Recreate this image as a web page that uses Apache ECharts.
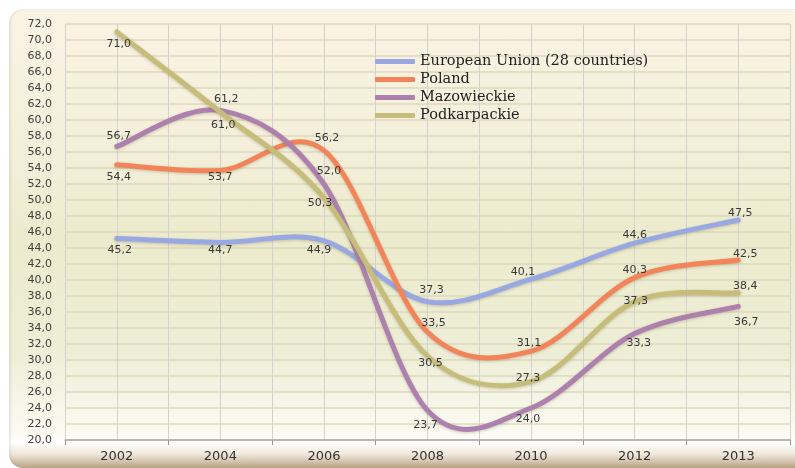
<!DOCTYPE html>
<html>
<head>
<meta charset="utf-8">
<script src="https://cdn.jsdelivr.net/npm/echarts@6/dist/echarts.min.js"></script>
<style>
html,body{margin:0;padding:0;background:#ffffff;}
#wrap{position:relative;width:795px;height:468px;overflow:hidden;}
#panel{position:absolute;left:9px;top:9px;width:790px;height:459px;border-radius:14px 0 0 14px;
background:linear-gradient(to bottom,#fbf3e4 0%,#f4efdb 30%,#ecebcd 50%,#eeeed7 75%,#fafaf2 92%,#ffffff 94.5%,#efe7da 97%,#b9a385 100%);
box-shadow:inset 2px 0 2px rgba(150,130,100,0.15);}
#chart{position:absolute;left:0;top:0;width:795px;height:468px;}
</style>
</head>
<body>
<div id="wrap"><div id="panel"></div><div id="chart"></div></div>
<script>
const categories = ['2002', '2004', '2006', '2008', '2010', '2012', '2013'];
const seriesNames = ['European Union (28 countries)', 'Poland', 'Mazowieckie', 'Podkarpackie'];
const euValues = [45.2, 44.7, 44.9, 37.3, 40.1, 44.6, 47.5];
const polandValues = [54.4, 53.7, 56.2, 33.5, 31.1, 40.3, 42.5];
const mazowieckieValues = [56.7, 61.2, 52.0, 23.7, 24.0, 33.3, 36.7];
const podkarpackieValues = [71.0, 61.0, 50.3, 30.5, 27.3, 37.3, 38.4];

// label placement (style only): offset of the label centre from its point, in px
const labelOffsets = [
  [[3,12],[0,8],[-5,9],[4,-11],[-8,-7],[0,-8],[2,-7]],
  [[2,12],[0,7],[3,-12],[6,-9],[-2,-8],[0,-7],[7,-6]],
  [[2,-10],[6,-11],[5,-13],[-2,15],[-3,11],[4,10],[8,16]],
  [[2,12],[3,13],[-4,6],[3,7],[-3,-3],[1,0],[7,-7]]
];
const colors = ['#99a8e2', '#f3845a', '#ad80ad', '#c7bd7a'];
const allValues = [euValues, polandValues, mazowieckieValues, podkarpackieValues];

const fmt = v => v.toFixed(1).replace('.', ',');

// Smoothed path through the points (Catmull-Rom style, as spreadsheet "smoothed line")
function smoothPath(pts) {
  const n = pts.length;
  let d = 'M' + pts[0][0] + ' ' + pts[0][1];
  for (let i = 0; i < n - 1; i++) {
    const p0 = pts[Math.max(i - 1, 0)], p1 = pts[i], p2 = pts[i + 1], p3 = pts[Math.min(i + 2, n - 1)];
    const c1x = p1[0] + (p2[0] - p0[0]) / 6, c1y = p1[1] + (p2[1] - p0[1]) / 6;
    const c2x = p2[0] - (p3[0] - p1[0]) / 6, c2y = p2[1] - (p3[1] - p1[1]) / 6;
    d += ' C' + c1x + ' ' + c1y + ' ' + c2x + ' ' + c2y + ' ' + p2[0] + ' ' + p2[1];
  }
  return d;
}

const series = allValues.map((vals, si) => ({
  name: seriesNames[si],
  type: 'custom',
  xAxisIndex: 0,
  yAxisIndex: 0,
  z: 2 + si,
  itemStyle: { color: colors[si] },
  data: vals,
  clip: false,
  renderItem: function (params, api) {
    const i = params.dataIndex;
    const children = [];
    if (i === 0) {
      const pts = vals.map((v, k) => api.coord([k, v]));
      children.push({
        type: 'path',
        shape: { pathData: smoothPath(pts) },
        style: {
          fill: 'none',
          stroke: colors[si],
          lineWidth: 5,
          lineCap: 'round',
          lineJoin: 'round',
          shadowColor: 'rgba(90,80,40,0.28)',
          shadowBlur: 3,
          shadowOffsetY: 1
        },
        z2: 1
      });
    }
    const c = api.coord([i, vals[i]]);
    const off = labelOffsets[si][i];
    children.push({
      type: 'text',
      x: c[0] + off[0],
      y: c[1] + off[1],
      style: {
        text: fmt(vals[i]),
        align: 'center',
        verticalAlign: 'middle',
        fontFamily: 'DejaVu Sans',
        fontSize: 11,
        fill: '#383838'
      },
      z2: 100
    });
    return { type: 'group', children: children };
  }
}));

const chart = echarts.init(document.getElementById('chart'), null, { renderer: 'canvas' });
chart.setOption({
  animation: false,
  backgroundColor: 'transparent',
  grid: { left: 65, right: 5, top: 24, bottom: 28, containLabel: false },
  legend: {
    orient: 'vertical',
    left: 375,
    top: 54,
    padding: 0,
    itemWidth: 40,
    itemHeight: 5,
    itemGap: 3,
    icon: 'roundRect',
    data: seriesNames,
    textStyle: { fontFamily: 'DejaVu Serif', fontSize: 14.5, color: '#222222', lineHeight: 15 }
  },
  xAxis: [
    {
      type: 'category',
      data: categories,
      boundaryGap: true,
      axisLine: { show: true, lineStyle: { color: '#a9a9a9', width: 1.5 } },
      axisTick: { show: true, length: 5, lineStyle: { color: '#9a9a9a' } },
      axisLabel: { fontFamily: 'DejaVu Sans', fontSize: 13, color: '#333333', margin: 10 },
      splitLine: { show: false }
    },
    {
      type: 'value',
      min: 0,
      max: 14,
      interval: 1,
      position: 'bottom',
      axisLine: { show: false },
      axisTick: { show: false },
      axisLabel: { show: false },
      splitLine: { show: true, lineStyle: { color: '#d2d2cf', width: 1 } }
    }
  ],
  yAxis: {
    type: 'value',
    min: 20,
    max: 72,
    interval: 2,
    axisLine: { show: false },
    axisTick: { show: false },
    axisLabel: { formatter: v => fmt(v), fontFamily: 'DejaVu Sans', fontSize: 11, color: '#404040', margin: 13 },
    splitLine: { show: true, lineStyle: { color: '#ddd9bc', width: 1.5 } }
  },
  series: series
});
</script>
</body>
</html>
